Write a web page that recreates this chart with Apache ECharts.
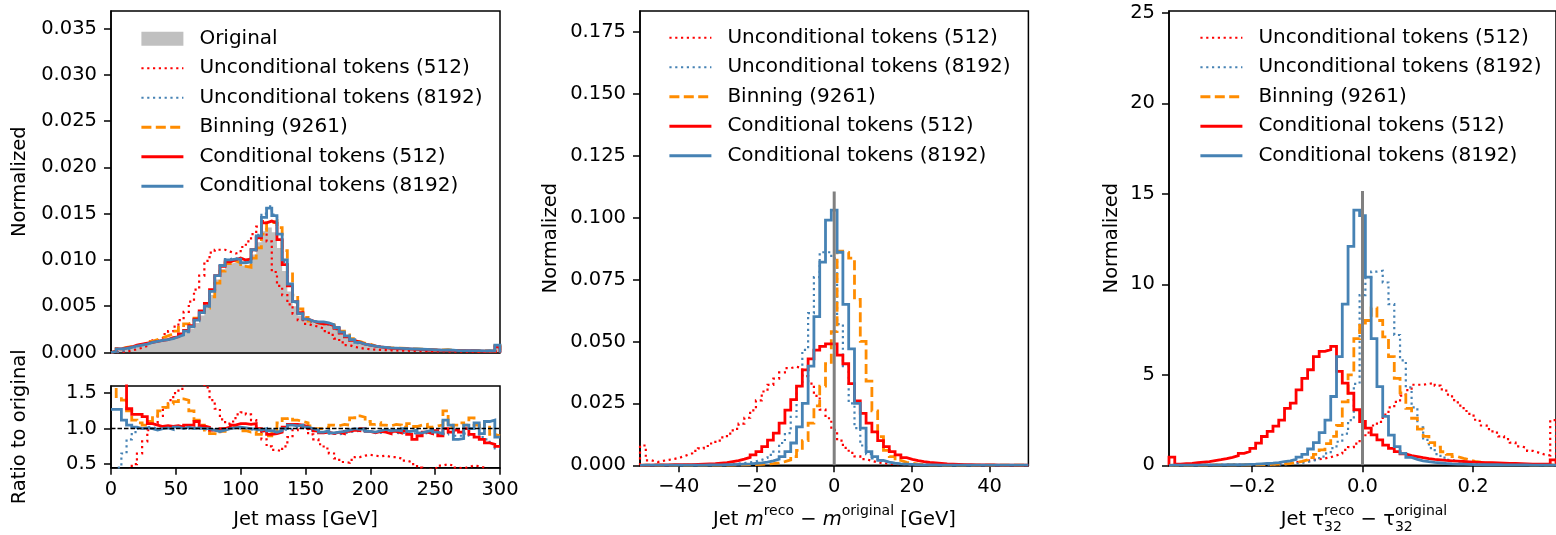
<!DOCTYPE html>
<html>
<head>
<meta charset="utf-8">
<script src="https://cdn.jsdelivr.net/npm/echarts@6/dist/echarts.min.js"></script>
<style>
  html, body { margin: 0; padding: 0; background: #fff; }
  #chart { width: 1556px; height: 535px; }
</style>
</head>
<body>
<div id="chart"></div>
<script>
// ---- jet mass panel: 75 bins of 4 GeV from 0 to 300 ----
const massLo = 0, massBinWidth = 4;
const massOriginal = [
  0.0001, 0.0003, 0.0004, 0.0005, 0.0007, 0.0008, 0.0009, 0.0011, 0.0012, 0.0013,
  0.0014, 0.0015, 0.0017, 0.0019, 0.0022, 0.0026, 0.0032, 0.0040, 0.0048, 0.0062,
  0.0079, 0.0090, 0.0096, 0.0097, 0.0097, 0.0094, 0.0095, 0.0106, 0.0119, 0.0131,
  0.0135, 0.0130, 0.0113, 0.0088, 0.0066, 0.0050, 0.0040, 0.0034, 0.0032, 0.0031,
  0.0031, 0.0030, 0.0028, 0.0025, 0.0021, 0.0017, 0.0013, 0.0011, 0.0009, 0.0008,
  0.0007, 0.0006, 0.00055, 0.0005, 0.00047, 0.00045, 0.00042, 0.0004, 0.00038, 0.00035,
  0.00033, 0.0003, 0.00028, 0.00026, 0.00025, 0.00024, 0.00022, 0.00021, 0.0002, 0.0002,
  0.00019, 0.00018, 0.00017, 0.00016, 0.0007
];
const massUncond512 = [
  0.00001, 0.00006, 0.00012, 0.0002, 0.00035, 0.0005, 0.0007, 0.001, 0.0013, 0.0015,
  0.002, 0.0023, 0.0028, 0.0035, 0.0044, 0.0055, 0.0068, 0.0083, 0.0099, 0.0108,
  0.0111, 0.0111, 0.0109, 0.0107, 0.0108, 0.0114, 0.0120, 0.0128, 0.0136, 0.0142,
  0.0120, 0.0087, 0.0072, 0.0062, 0.0052, 0.0042, 0.0035, 0.0031, 0.0029, 0.0028,
  0.0026, 0.0023, 0.0019, 0.0015, 0.0011, 0.0008, 0.0006, 0.0005, 0.0004, 0.00035,
  0.0003, 0.00028, 0.00026, 0.00024, 0.00022, 0.0002, 0.00019, 0.00018, 0.00016, 0.00015,
  0.00014, 0.00013, 0.00012, 0.00011, 0.0001, 0.0001, 0.00009, 0.00009, 0.00008, 0.00008,
  0.00007, 0.00007, 0.00006, 0.00006, 0.0002
];
const massUncond8192 = [
  0.00003, 0.00013, 0.00028, 0.00045, 0.00065, 0.0008, 0.0009, 0.0011, 0.0012, 0.0013,
  0.0014, 0.0015, 0.0017, 0.0019, 0.0022, 0.0027, 0.0034, 0.0043, 0.0051, 0.0066,
  0.0083, 0.0094, 0.0101, 0.0102, 0.0101, 0.0098, 0.0097, 0.0109, 0.0127, 0.0150,
  0.0158, 0.0149, 0.0128, 0.0098, 0.0073, 0.0054, 0.0042, 0.0036, 0.0033, 0.0032,
  0.0031, 0.0030, 0.0028, 0.0025, 0.0021, 0.0017, 0.0013, 0.0010, 0.0009, 0.0008,
  0.0007, 0.0006, 0.0005, 0.00047, 0.00044, 0.00042, 0.00039, 0.00037, 0.00035, 0.00032,
  0.0003, 0.00027, 0.00026, 0.00024, 0.00023, 0.00023, 0.00021, 0.00019, 0.00018, 0.00018,
  0.00017, 0.00016, 0.00015, 0.00013, 0.0005
];
const massBinning = [
  0.00016, 0.00042, 0.00055, 0.00062, 0.00075, 0.00085, 0.00095, 0.0012, 0.0014, 0.0016,
  0.0018, 0.0020, 0.0023, 0.0027, 0.0031, 0.0033, 0.0037, 0.0043, 0.0048, 0.0060,
  0.0075, 0.0088, 0.0096, 0.0099, 0.0097, 0.0093, 0.0092, 0.0102, 0.0113, 0.0128,
  0.0140, 0.0142, 0.0135, 0.0110, 0.0085, 0.0062, 0.0047, 0.0038, 0.0034, 0.0032,
  0.0031, 0.0031, 0.0030, 0.0027, 0.0023, 0.0019, 0.0015, 0.0012, 0.0010, 0.0009,
  0.0007, 0.0006, 0.00055, 0.0005, 0.00049, 0.00047, 0.00043, 0.0004, 0.0004, 0.00036,
  0.00034, 0.00031, 0.00029, 0.00027, 0.00031, 0.00023, 0.00022, 0.00021, 0.00021, 0.00021,
  0.00019, 0.00018, 0.00017, 0.00016, 0.0007
];
const massCond512 = [
  0.00015, 0.0004, 0.0005, 0.0006, 0.0008, 0.0009, 0.0010, 0.0011, 0.0012, 0.0013,
  0.0014, 0.0016, 0.0017, 0.0020, 0.0024, 0.0029, 0.0036, 0.0045, 0.0053, 0.0068,
  0.0083, 0.0093, 0.0098, 0.0100, 0.0102, 0.0100, 0.0101, 0.0111, 0.0124, 0.0140,
  0.0142, 0.0140, 0.0122, 0.0095, 0.0072, 0.0055, 0.0043, 0.0036, 0.0034, 0.0032,
  0.0031, 0.0031, 0.0029, 0.0026, 0.0021, 0.0017, 0.0013, 0.0011, 0.0009, 0.0008,
  0.0007, 0.0006, 0.00052, 0.00046, 0.00044, 0.0004, 0.0004, 0.00037, 0.00034, 0.0003,
  0.00027, 0.00027, 0.00025, 0.00024, 0.00022, 0.00024, 0.00021, 0.0002, 0.00019, 0.0002,
  0.00016, 0.00015, 0.00014, 0.00013, 0.0006
];
const massCond8192 = [
  0.00013, 0.0004, 0.00045, 0.00055, 0.0007, 0.0008, 0.0009, 0.0011, 0.0012, 0.0013,
  0.0014, 0.0015, 0.0017, 0.0019, 0.0023, 0.0028, 0.0035, 0.0043, 0.0050, 0.0066,
  0.0083, 0.0094, 0.0100, 0.0101, 0.0101, 0.0097, 0.0098, 0.0111, 0.0126, 0.0146,
  0.0156, 0.0148, 0.0128, 0.0100, 0.0074, 0.0055, 0.0042, 0.0036, 0.0034, 0.0033,
  0.0033, 0.0032, 0.0030, 0.0027, 0.0022, 0.0018, 0.0014, 0.0011, 0.0009, 0.0008,
  0.0007, 0.0006, 0.00055, 0.0005, 0.00047, 0.00045, 0.00042, 0.0004, 0.00038, 0.00035,
  0.00033, 0.0003, 0.00028, 0.00026, 0.00029, 0.00026, 0.00021, 0.0002, 0.00021, 0.0002,
  0.00021, 0.00018, 0.00019, 0.00018, 0.0008
];

// ---- ratio to original, same binning ----
const ratioUncond512 = [
  0.1, 0.2, 0.3, 0.42, 0.5, 0.65, 0.82, 0.98, 1.08, 1.18,
  1.3, 1.4, 1.5, 1.56, 1.65, 1.75, 1.8, 1.75, 1.58, 1.4,
  1.28, 1.13, 1.07, 1.1, 1.2, 1.23, 1.2, 1.12, 1.0, 0.85,
  0.75, 0.7, 0.68, 0.75, 0.88, 0.98, 1.02, 1.0, 0.92, 0.85,
  0.78, 0.72, 0.65, 0.58, 0.53, 0.52, 0.56, 0.6, 0.62, 0.63,
  0.62, 0.61, 0.62, 0.6, 0.6, 0.58, 0.55, 0.53, 0.5, 0.45,
  0.42, 0.43, 0.45, 0.48, 0.5, 0.48, 0.45, 0.44, 0.46, 0.48,
  0.47, 0.45, 0.42, 0.4, 0.38
];
const ratioUncond8192 = [
  0.3, 0.45, 0.65, 0.85, 0.95, 1.0, 1.02, 1.02, 1.0, 1.0,
  1.02, 1.03, 1.02, 1.01, 1.0, 1.02, 1.0, 1.0, 0.98, 0.97,
  0.98, 1.0, 1.02, 1.02, 1.0, 1.0, 0.99, 0.98, 0.96, 0.97,
  0.98, 1.0, 1.0, 0.98, 1.0, 1.02, 1.01, 1.0, 0.97, 0.95,
  0.94, 0.93, 0.93, 0.92, 0.93, 0.95, 0.96, 0.97, 0.97, 0.96,
  0.95, 0.94, 0.96, 0.95, 0.94, 0.93, 0.95, 0.94, 0.93, 0.92,
  0.94, 0.93, 0.95, 0.93, 0.92, 0.95, 0.9, 0.9, 0.93, 0.9,
  0.92, 0.88, 0.85, 0.78, 0.72
];
const ratioBinning = [
  1.7, 1.45, 1.4, 1.25, 1.12, 1.08, 1.05, 1.1, 1.18, 1.25,
  1.3, 1.35, 1.38, 1.42, 1.4, 1.25, 1.12, 1.05, 0.98, 0.93,
  0.92, 0.96, 1.0, 1.02, 1.0, 0.97, 0.95, 0.96, 0.92, 0.9,
  0.9, 0.95, 1.08, 1.14, 1.16, 1.12, 1.1, 1.08, 1.04, 1.0,
  1.0, 1.02, 1.05, 1.04, 1.06, 1.05, 1.15, 1.18, 1.16, 1.1,
  1.06, 1.08, 1.05, 1.04, 1.06, 1.05, 1.02, 1.07, 1.03, 1.05,
  1.06, 1.02, 1.04, 1.05, 1.25, 1.02, 1.05, 1.08, 1.05, 1.15,
  1.05, 1.02, 1.1, 0.92, 0.9
];
const ratioCond512 = [
  1.7, 1.7, 1.7, 1.28, 1.2, 1.2, 1.17, 1.07, 1.05, 1.03,
  1.04, 1.03, 1.04, 1.02, 1.05, 1.05, 1.1, 1.04, 1.02, 0.98,
  0.97, 1.0, 1.02, 1.05, 1.07, 1.07, 1.06, 1.07, 1.0, 0.97,
  0.92, 0.93, 0.95, 1.02, 1.06, 1.06, 1.05, 1.03, 1.0, 0.97,
  0.94, 0.95, 0.93, 0.95, 0.93, 0.96, 0.98, 0.97, 1.0, 0.96,
  0.94, 0.96, 0.95, 0.93, 0.96, 0.94, 0.97, 0.92, 0.85, 0.9,
  0.95, 0.93, 0.97, 0.9, 1.0, 0.95, 0.98, 0.95, 1.0, 0.92,
  0.88, 0.85, 0.8, 0.78, 0.75
];
const ratioCond8192 = [
  1.27, 1.27, 1.12, 1.05, 1.02, 1.0, 1.01, 1.0, 0.98, 1.0,
  1.01, 0.99, 1.02, 1.0, 1.02, 1.0, 1.01, 1.0, 1.0, 0.98,
  0.96, 0.98, 1.0, 1.01, 1.02, 1.01, 1.0, 0.99, 0.98, 1.0,
  0.97, 0.95, 0.97, 1.0, 1.05, 1.04, 1.05, 1.02, 1.0, 0.98,
  0.95, 0.97, 0.94, 0.95, 0.96, 0.98, 1.0, 0.99, 1.0, 0.96,
  0.95, 0.97, 0.99, 0.97, 0.98, 0.97, 1.0, 0.96, 0.98, 0.94,
  0.96, 0.98, 0.95, 0.93, 1.12, 1.05, 0.85, 0.86, 1.05, 1.0,
  1.08, 0.93, 1.1, 1.12, 0.88
];

// ---- m_reco - m_original: 67 bins from -50 to 50 ----
const dmLo = -50, dmBinWidth = 100 / 67;
const dmUncond512 = [
  0.008, 0.002, 0.0013, 0.0018, 0.0022, 0.0026, 0.0032, 0.004, 0.0048, 0.0058,
  0.0068, 0.0078, 0.0088, 0.0100, 0.0113, 0.0128, 0.0147, 0.0168, 0.0192, 0.0222,
  0.0262, 0.0298, 0.0325, 0.0350, 0.0375, 0.0392, 0.0398, 0.0392, 0.036, 0.033,
  0.028, 0.0225, 0.019, 0.0143, 0.010, 0.007, 0.005, 0.0036, 0.0025, 0.0018,
  0.0012, 0.0009, 0.0006, 0.0005, 0.0005, 0.0004, 0.0004, 0.0003, 0.0003, 0.0003,
  0.0002, 0.0002, 0.0002, 0.0002, 0.0002, 0.0001, 0.0001, 0.0001, 0.0001, 0.0001,
  0.0001, 0.0001, 0.0001, 0.0001, 0.0001, 0.0001, 0.0001
];
const dmUncond8192 = [
  0.0001, 0.0001, 0.0001, 0.0001, 0.0001, 0.0001, 0.0001, 0.0001, 0.0002, 0.0002,
  0.0002, 0.0003, 0.0003, 0.0003, 0.0004, 0.0005, 0.0007, 0.0009, 0.0012, 0.0016,
  0.0022, 0.003, 0.0042, 0.0055, 0.009, 0.013, 0.0196, 0.032, 0.0466, 0.0614,
  0.076, 0.086, 0.086, 0.0835, 0.057, 0.040, 0.025, 0.015, 0.008, 0.0045,
  0.0028, 0.0018, 0.0012, 0.0008, 0.0006, 0.0004, 0.0003, 0.0003, 0.0002, 0.0002,
  0.0002, 0.0001, 0.0001, 0.0001, 0.0001, 0.0001, 0.0001, 0.0001, 0.0001, 0.0001,
  0.0001, 0.0001, 0.0001, 0.0001, 0.0001, 0.0001, 0.0001
];
const dmBinning = [
  0.0001, 0.0001, 0.0001, 0.0001, 0.0001, 0.0001, 0.0001, 0.0001, 0.0001, 0.0001,
  0.0001, 0.0001, 0.0001, 0.0001, 0.0001, 0.0001, 0.0002, 0.0002, 0.0003, 0.0003,
  0.0004, 0.0005, 0.0007, 0.001, 0.0015, 0.0022, 0.0035, 0.006, 0.010, 0.017,
  0.024, 0.032, 0.041, 0.054, 0.0865, 0.086, 0.0836, 0.067, 0.050, 0.034,
  0.022, 0.0116, 0.006, 0.0035, 0.002, 0.0012, 0.0008, 0.0005, 0.0003, 0.0002,
  0.0002, 0.0001, 0.0001, 0.0001, 0.0001, 0.0001, 0.0001, 0.0001, 0.0001, 0.0001,
  0.0001, 0.0001, 0.0001, 0.0001, 0.0001, 0.0001, 0.0001
];
const dmCond512 = [
  0.0001, 0.0001, 0.0002, 0.0002, 0.0002, 0.0003, 0.0003, 0.0003, 0.0003, 0.0004,
  0.0005, 0.0006, 0.0007, 0.0009, 0.0011, 0.0015, 0.0019, 0.0025, 0.0032, 0.0042,
  0.0055, 0.0075, 0.0102, 0.013, 0.017, 0.0223, 0.0265, 0.032, 0.0385, 0.043,
  0.0465, 0.048, 0.049, 0.049, 0.0445, 0.041, 0.033, 0.026, 0.021, 0.017,
  0.0135, 0.010, 0.0075, 0.0055, 0.0042, 0.0031, 0.0024, 0.0019, 0.0015, 0.0012,
  0.001, 0.0008, 0.0006, 0.0005, 0.0004, 0.0003, 0.0003, 0.0002, 0.0002, 0.0002,
  0.0002, 0.0001, 0.0001, 0.0001, 0.0001, 0.0001, 0.0001
];
const dmCond8192 = [
  0.0001, 0.0001, 0.0001, 0.0001, 0.0001, 0.0001, 0.0001, 0.0001, 0.0001, 0.0001,
  0.0001, 0.0002, 0.0002, 0.0002, 0.0003, 0.0003, 0.0004, 0.0005, 0.0006, 0.0008,
  0.001, 0.0013, 0.0018, 0.0025, 0.0035, 0.0055, 0.009, 0.0155, 0.025, 0.040,
  0.060, 0.082, 0.099, 0.103, 0.086, 0.065, 0.047, 0.025, 0.015, 0.0055,
  0.0035, 0.002, 0.0013, 0.0009, 0.0006, 0.0005, 0.0004, 0.0003, 0.0002, 0.0002,
  0.0002, 0.0001, 0.0001, 0.0001, 0.0001, 0.0001, 0.0001, 0.0001, 0.0001, 0.0001,
  0.0001, 0.0001, 0.0001, 0.0001, 0.0001, 0.0001, 0.0001
];
const dmZeroLine = [[0, 0], [0, 0.1105]];

// ---- tau32_reco - tau32_original: 67 bins from -0.35 to 0.35 ----
const dtauLo = -0.35, dtauBinWidth = 0.7 / 67;
const dtauUncond512 = [
  0.02, 0.02, 0.02, 0.02, 0.02, 0.03, 0.03, 0.03, 0.03, 0.03,
  0.04, 0.04, 0.04, 0.04, 0.05, 0.06, 0.07, 0.08, 0.1, 0.12,
  0.14, 0.17, 0.2, 0.25, 0.3, 0.33, 0.38, 0.45, 0.55, 0.65,
  0.85, 1.0, 1.2, 1.5, 1.8, 2.2, 2.4, 2.8, 3.2, 3.5,
  3.85, 4.15, 4.45, 4.45, 4.5, 4.55, 4.4, 4.2, 3.9, 3.6,
  3.3, 3.0, 2.75, 2.45, 2.2, 2.0, 1.8, 1.6, 1.45, 1.25,
  1.05, 0.95, 0.8, 0.7, 0.6, 0.55, 2.5
];
const dtauUncond8192 = [
  0.01, 0.01, 0.01, 0.01, 0.01, 0.01, 0.01, 0.02, 0.02, 0.02,
  0.02, 0.02, 0.03, 0.03, 0.03, 0.03, 0.04, 0.04, 0.04, 0.05,
  0.07, 0.1, 0.13, 0.18, 0.26, 0.33, 0.48, 0.66, 0.95, 1.3,
  1.75, 2.5, 4.5, 9.4, 10.4, 10.7, 10.75, 10.1, 8.9, 7.2,
  5.8, 4.3, 3.2, 2.1, 1.4, 0.95, 0.62, 0.42, 0.3, 0.22,
  0.16, 0.12, 0.09, 0.07, 0.05, 0.04, 0.03, 0.03, 0.03, 0.02,
  0.02, 0.02, 0.02, 0.01, 0.01, 0.01, 0.01
];
const dtauBinning = [
  0.01, 0.01, 0.01, 0.01, 0.01, 0.01, 0.02, 0.02, 0.02, 0.02,
  0.02, 0.02, 0.03, 0.03, 0.03, 0.04, 0.04, 0.05, 0.06, 0.08,
  0.1, 0.15, 0.22, 0.3, 0.42, 0.6, 0.85, 1.2, 1.6, 2.2,
  3.5, 5.0, 7.0, 7.86, 8.0, 8.7, 8.0, 7.1, 6.0, 4.8,
  4.0, 3.15, 2.6, 2.0, 1.6, 1.25, 1.0, 0.75, 0.6, 0.48,
  0.38, 0.3, 0.22, 0.17, 0.13, 0.1, 0.08, 0.06, 0.05, 0.04,
  0.04, 0.03, 0.03, 0.03, 0.02, 0.02, 0.02
];
const dtauCond512 = [
  0.45, 0.07, 0.09, 0.11, 0.14, 0.17, 0.2, 0.26, 0.31, 0.37,
  0.44, 0.53, 0.66, 0.76, 0.94, 1.22, 1.59, 1.87, 2.16, 2.5,
  3.15, 3.43, 4.17, 4.8, 5.28, 6.0, 6.29, 6.39, 6.57, 5.19,
  4.54, 3.98, 3.07, 2.42, 2.05, 1.68, 1.4, 1.12, 0.94, 0.76,
  0.63, 0.53, 0.48, 0.42, 0.37, 0.33, 0.3, 0.27, 0.25, 0.23,
  0.21, 0.19, 0.17, 0.16, 0.15, 0.14, 0.13, 0.12, 0.11, 0.1,
  0.09, 0.08, 0.07, 0.07, 0.06, 0.06, 0.3
];
const dtauCond8192 = [
  0.01, 0.01, 0.01, 0.01, 0.01, 0.02, 0.02, 0.02, 0.02, 0.03,
  0.03, 0.03, 0.04, 0.05, 0.06, 0.08, 0.1, 0.12, 0.15, 0.2,
  0.25, 0.33, 0.45, 0.6, 0.9, 1.25, 1.8, 2.5, 3.8, 6.0,
  8.9, 12.1, 14.1, 13.8, 10.4, 7.0, 4.35, 2.7, 1.67, 1.03,
  0.66, 0.44, 0.33, 0.25, 0.2, 0.16, 0.13, 0.1, 0.08, 0.07,
  0.06, 0.05, 0.04, 0.04, 0.03, 0.03, 0.03, 0.02, 0.02, 0.02,
  0.02, 0.02, 0.01, 0.01, 0.01, 0.01, 0.01
];
const dtauZeroLine = [[0, 0], [0, 15.15]];

// tick labels
const massTicks = [0, 50, 100, 150, 200, 250, 300];
const massNormTicks = [0, 0.005, 0.01, 0.015, 0.02, 0.025, 0.03, 0.035];
const ratioTicks = [0.5, 1.0, 1.5];
const dmTicks = [-40, -20, 0, 20, 40];
const dmNormTicks = [0, 0.025, 0.05, 0.075, 0.1, 0.125, 0.15, 0.175];
const dtauTicks = [-0.2, 0, 0.2];
const dtauNormTicks = [0, 5, 10, 15, 20, 25];

const FONT = '"DejaVu Sans", sans-serif';
const NAMES = ['Unconditional tokens (512)', 'Unconditional tokens (8192)', 'Binning (9261)',
               'Conditional tokens (512)', 'Conditional tokens (8192)'];
const LOOK = {
  'Unconditional tokens (512)':  { color: '#ff0000', width: 2.2, type: [2.2, 3.6] },
  'Unconditional tokens (8192)': { color: '#4682b4', width: 2.2, type: [2.2, 3.6] },
  'Binning (9261)':              { color: '#ff8c00', width: 2.8, type: [10, 4.4] },
  'Conditional tokens (512)':    { color: '#ff0000', width: 2.8, type: 'solid' },
  'Conditional tokens (8192)':   { color: '#4682b4', width: 2.8, type: 'solid' }
};

// histogram outline (closed down to zero at both ends)
function histPoints(lo, w, vals) {
  const pts = [[lo, 0]];
  vals.forEach((v, i) => pts.push([lo + i * w, v]));
  pts.push([lo + vals.length * w, vals[vals.length - 1]]);
  pts.push([lo + vals.length * w, 0]);
  return pts;
}
function stepPoints(lo, w, vals) {
  const pts = vals.map((v, i) => [lo + i * w, v]);
  pts.push([lo + vals.length * w, vals[vals.length - 1]]);
  return pts;
}
function lineSeries(name, idx, data) {
  const s = LOOK[name];
  return {
    name: name, type: 'line', xAxisIndex: idx, yAxisIndex: idx,
    data: data, step: 'end', symbol: 'none', showSymbol: false,
    silent: true, animation: false, emphasis: { disabled: true },
    itemStyle: { color: s.color },
    lineStyle: { color: s.color, width: s.width, type: s.type, cap: 'butt', join: 'miter' }
  };
}
function zeroLine(idx, data) {
  return {
    type: 'line', xAxisIndex: idx, yAxisIndex: idx, data: data, symbol: 'none',
    silent: true, animation: false, z: 5,
    lineStyle: { color: '#808080', width: 3 }
  };
}

const series = [];
series.push({
  name: 'Original', type: 'line', xAxisIndex: 0, yAxisIndex: 0,
  data: histPoints(massLo, massBinWidth, massOriginal), step: 'end',
  symbol: 'none', silent: true, animation: false,
  itemStyle: { color: '#c0c0c0' },
  lineStyle: { width: 0, color: '#c0c0c0' },
  areaStyle: { color: '#c0c0c0', opacity: 1 }
});
const massSets = [massUncond512, massUncond8192, massBinning, massCond512, massCond8192];
const ratioSets = [ratioUncond512, ratioUncond8192, ratioBinning, ratioCond512, ratioCond8192];
const dmSets = [dmUncond512, dmUncond8192, dmBinning, dmCond512, dmCond8192];
const dtauSets = [dtauUncond512, dtauUncond8192, dtauBinning, dtauCond512, dtauCond8192];
NAMES.forEach((n, i) => series.push(lineSeries(n, 0, histPoints(massLo, massBinWidth, massSets[i]))));
NAMES.forEach((n, i) => {
  const s = lineSeries(n, 1, stepPoints(massLo, massBinWidth, ratioSets[i]));
  if (i === 0) {
    s.markLine = {
      silent: true, symbol: ['none', 'none'], label: { show: false }, animation: false,
      lineStyle: { color: '#000', type: [4.5, 2], width: 1.3 },
      data: [{ yAxis: 1 }]
    };
  }
  series.push(s);
});
NAMES.forEach((n, i) => series.push(lineSeries(n, 2, histPoints(dmLo, dmBinWidth, dmSets[i]))));
series.push(zeroLine(2, dmZeroLine));
NAMES.forEach((n, i) => series.push(lineSeries(n, 3, histPoints(dtauLo, dtauBinWidth, dtauSets[i]))));
series.push(zeroLine(3, dtauZeroLine));

const tickLabel = { color: '#000', fontSize: 19.5, fontFamily: FONT };
const nameStyle = { color: '#000', fontSize: 19.5, fontFamily: FONT };
function valueAxis(idx, min, max, ticks, fmt, margin, extra) {
  return Object.assign({
    type: 'value', gridIndex: idx, min: min, max: max,
    axisLine: { show: true, onZero: false, lineStyle: { color: '#000', width: 1.5 } },
    axisTick: { show: true, length: 7, lineStyle: { color: '#000', width: 1.5 }, customValues: ticks },
    axisLabel: Object.assign({ show: true, margin: margin, formatter: fmt, customValues: ticks }, tickLabel),
    splitLine: { show: false },
    nameTextStyle: nameStyle
  }, extra || {});
}
const minus = s => s.replace('-', '\u2212');

function legend(left, top, names) {
  return {
    orient: 'vertical', left: left, top: top, padding: 0, itemGap: 0,
    itemWidth: 42, itemHeight: 14, selectedMode: false,
    textStyle: { color: '#000', fontSize: 20, fontFamily: FONT, lineHeight: 29.5, padding: [0, 0, 0, 11] },
    itemStyle: { opacity: 0 },
    lineStyle: { width: 'inherit' },
    data: names.map(n => n === 'Original'
      ? { name: n, icon: 'rect', itemStyle: { color: '#c0c0c0', opacity: 1 } }
      : { name: n })
  };
}

// x titles with super/subscripts, laid out as plain text pieces
const ctx = document.createElement('canvas').getContext('2d');
function textWidth(t, px, italic) {
  ctx.font = (italic ? 'italic ' : '') + px + 'px ' + FONT;
  return ctx.measureText(t).width;
}
function mathTitle(cx, cy, parts) {
  const MAIN = 19.5, SCRIPT = 14;
  const widths = parts.map(p => p.t !== undefined
    ? textWidth(p.t, MAIN, p.it)
    : Math.max(p.sup ? textWidth(p.sup, SCRIPT) : 0, p.sub ? textWidth(p.sub, SCRIPT) : 0));
  let x = cx - widths.reduce((a, b) => a + b, 0) / 2;
  const els = [];
  const txt = (t, px, y, it) => ({
    type: 'text', x: x, y: y, silent: true,
    style: { text: t, fontSize: px, fontFamily: FONT, fontStyle: it ? 'italic' : 'normal',
             fill: '#000', textAlign: 'left', textVerticalAlign: 'middle' }
  });
  parts.forEach((p, i) => {
    if (p.t !== undefined) els.push(txt(p.t, MAIN, cy, p.it));
    else {
      if (p.sup) els.push(txt(p.sup, SCRIPT, cy - 9));
      if (p.sub) els.push(txt(p.sub, SCRIPT, cy + 7));
    }
    x += widths[i];
  });
  return els;
}

const frame = { show: true, borderColor: '#000', borderWidth: 1.5, backgroundColor: 'transparent' };
const option = {
  animation: false,
  backgroundColor: '#fff',
  grid: [
    Object.assign({ left: 111, right: 1056, top: 11, bottom: 182.5 }, frame),
    Object.assign({ left: 111, right: 1056, top: 386, bottom: 67.3 }, frame),
    Object.assign({ left: 640, right: 527.6, top: 11, bottom: 69.7 }, frame),
    Object.assign({ left: 1169, right: -3, top: 11, bottom: 69.7 }, frame)
  ],
  xAxis: [
    valueAxis(0, 0, 300, massTicks, v => String(v), 12, { axisLabel: { show: false }, axisTick: { show: false } }),
    valueAxis(1, 0, 300, massTicks, v => String(v), 12, { name: 'Jet mass [GeV]', nameLocation: 'middle', nameGap: 42 }),
    valueAxis(2, -50, 50, dmTicks, v => minus(String(v)), 12),
    valueAxis(3, -0.35, 0.35, dtauTicks, v => minus(v.toFixed(1)), 12)
  ],
  yAxis: [
    valueAxis(0, 0, 0.0369, massNormTicks, v => v.toFixed(3), 14, { name: 'Normalized', nameLocation: 'middle', nameGap: 81 }),
    valueAxis(1, 0.45, 1.6, ratioTicks, v => v.toFixed(1), 14, { name: 'Ratio to original', nameLocation: 'middle', nameGap: 81 }),
    valueAxis(2, 0, 0.1834, dmNormTicks, v => v.toFixed(3), 14, { name: 'Normalized', nameLocation: 'middle', nameGap: 79 }),
    valueAxis(3, 0, 25.1, dtauNormTicks, v => String(v), 14, { name: 'Normalized', nameLocation: 'middle', nameGap: 47 })
  ],
  legend: [
    legend(140, 24, ['Original'].concat(NAMES)),
    legend(668, 23, NAMES),
    legend(1199, 23, NAMES)
  ],
  graphic: mathTitle(834.5, 520, [
    { t: 'Jet ' }, { t: 'm', it: true }, { sup: 'reco' }, { t: ' \u2212 ' }, { t: 'm', it: true },
    { sup: 'original' }, { t: ' [GeV]' }
  ]).concat(mathTitle(1364, 520, [
    { t: 'Jet \u03c4' }, { sup: 'reco', sub: '32' }, { t: ' \u2212 \u03c4' }, { sup: 'original', sub: '32' }
  ])),
  series: series
};

const chart = echarts.init(document.getElementById('chart'), null, { renderer: 'canvas' });
chart.setOption(option);
</script>
</body>
</html>
